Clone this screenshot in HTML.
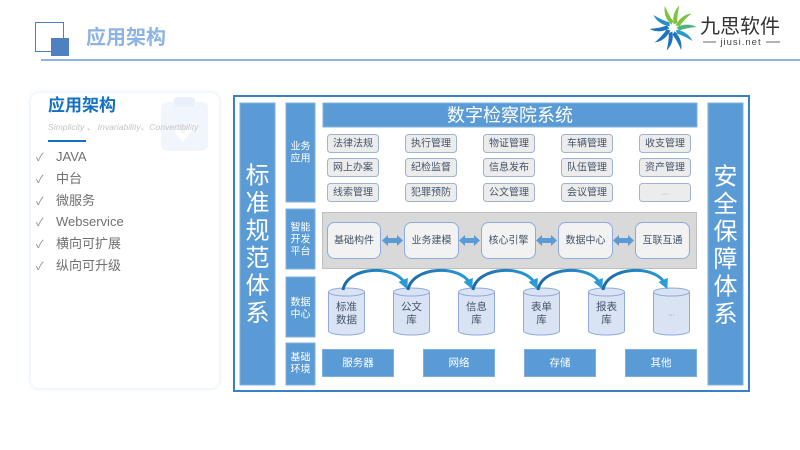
<!DOCTYPE html>
<html><head><meta charset="utf-8"><style>
html,body{margin:0;padding:0;width:800px;height:450px;overflow:hidden;background:#fff;font-family:"Liberation Sans","Noto Sans CJK SC",sans-serif;}
.abs{position:absolute;}
</style></head><body>
<div class="abs" style="left:0;top:0;width:800px;height:450px;">
<!-- header -->
<div class="abs" style="left:35px;top:22px;width:27px;height:28px;border:1px solid #4f7fc0;"></div>
<div class="abs" style="left:51px;top:38px;width:18px;height:18px;background:#4f81c2;"></div>
<div class="abs" style="left:86px;top:26px;font-size:20px;font-weight:bold;color:#8eb4e3;line-height:24px;">应用架构</div>
<div class="abs" style="left:41px;top:59px;width:759px;height:2px;background:#8db2e3;"></div>

<!-- left card -->
<div class="abs" style="left:31px;top:93px;width:188px;height:295px;border-radius:8px;background:#fff;box-shadow:0 0 4px 1px #e6eef7;"></div>
<svg class="abs" style="left:158px;top:96px" width="54" height="58">
<rect x="3" y="6" width="47" height="49" rx="6" fill="#f1f6fc"/>
<rect x="16" y="1" width="21" height="10" rx="4" fill="#e9f0f9"/>
<path d="M18 34 L25 42 L36 28" stroke="#fff" stroke-width="5" fill="none"/>
</svg>
<div class="abs" style="left:48px;top:96px;font-size:17px;font-weight:bold;color:#1570c2;line-height:20px;">应用架构</div>
<div class="abs" style="left:48px;top:121px;font-size:8.6px;font-style:italic;color:#c4c4c4;white-space:nowrap;">Simplicity 、 Invariability、Convertibility</div>
<div class="abs" style="left:48px;top:140px;width:38px;height:2px;background:#1570c2;"></div>
<div class="abs" style="left:36px;top:147px;font-size:13px;color:#707070;line-height:20.8px;">
<div><span style="display:inline-block;width:20px;font-size:11px;color:#8a8a8a">✓</span>JAVA</div>
<div><span style="display:inline-block;width:20px;font-size:11px;color:#8a8a8a">✓</span>中台</div>
<div><span style="display:inline-block;width:20px;font-size:11px;color:#8a8a8a">✓</span>微服务</div>
<div><span style="display:inline-block;width:20px;font-size:11px;color:#8a8a8a">✓</span>Webservice</div>
<div><span style="display:inline-block;width:20px;font-size:11px;color:#8a8a8a">✓</span>横向可扩展</div>
<div><span style="display:inline-block;width:20px;font-size:11px;color:#8a8a8a">✓</span>纵向可升级</div>
</div>

<!-- logo -->
<svg class="abs" style="left:650px;top:5px" width="145" height="50">
<g transform="translate(23,23)">
<g fill="#7cc243">
<path d="M2 -3 C4 -11 9 -16 15 -18 C11 -13 8 -8 6 -3 Z" transform="rotate(-60)"/>
<path d="M2 -3 C4 -11 9 -16 15 -18 C11 -13 8 -8 6 -3 Z" transform="rotate(-24)"/>
<path d="M2 -3 C4 -11 9 -16 15 -18 C11 -13 8 -8 6 -3 Z" transform="rotate(12)"/>
<path d="M2 -3 C4 -11 9 -16 15 -18 C11 -13 8 -8 6 -3 Z" transform="rotate(48)" fill="#4fb37a"/>
</g>
<g fill="#1f74bd">
<path d="M2 -3 C4 -11 9 -16 15 -18 C11 -13 8 -8 6 -3 Z" transform="rotate(84)" fill="#2a9ad0"/>
<path d="M2 -3 C4 -11 9 -16 15 -18 C11 -13 8 -8 6 -3 Z" transform="rotate(120)"/>
<path d="M2 -3 C4 -11 9 -16 15 -18 C11 -13 8 -8 6 -3 Z" transform="rotate(156)"/>
<path d="M2 -3 C4 -11 9 -16 15 -18 C11 -13 8 -8 6 -3 Z" transform="rotate(192)"/>
<path d="M2 -3 C4 -11 9 -16 15 -18 C11 -13 8 -8 6 -3 Z" transform="rotate(228)"/>
<path d="M2 -3 C4 -11 9 -16 15 -18 C11 -13 8 -8 6 -3 Z" transform="rotate(264)" fill="#2a8fc8"/>
</g>
</g>
<text x="50" y="28" font-size="20" fill="#333" font-family="Liberation Sans,Noto Sans CJK SC,sans-serif">九思软件</text>
<line x1="53" y1="37" x2="66" y2="37" stroke="#666" stroke-width="1"/>
<line x1="116" y1="37" x2="130" y2="37" stroke="#666" stroke-width="1"/>
<text x="91" y="40" font-size="9.5" fill="#444" text-anchor="middle" letter-spacing="1" font-family="Liberation Sans,sans-serif">jiusi.net</text>
</svg>

<!-- diagram -->
<svg class="abs" style="left:0;top:0" width="800" height="450" font-family="Liberation Sans,Noto Sans CJK SC,sans-serif">
<defs>
<marker id="ah" markerWidth="3.4" markerHeight="3.4" refX="1.5" refY="1.7" orient="auto" markerUnits="strokeWidth">
<path d="M0 0 L3.4 1.7 L0 3.4 Z" fill="#2a9ad8"/>
</marker>
<linearGradient id="ag" x1="0" x2="1" y1="0" y2="0">
<stop offset="0" stop-color="#1d6aa8"/><stop offset="1" stop-color="#2a9ad8"/>
</linearGradient>
</defs>
<rect x="234" y="96" width="515" height="295" fill="#fff" stroke="#3a80c5" stroke-width="2"/>
<!-- side bars -->
<rect x="240" y="103" width="35" height="282" fill="#5b9bd5" stroke="#7fb0dd" stroke-width="1"/>
<rect x="708" y="103" width="35" height="282" fill="#5b9bd5" stroke="#7fb0dd" stroke-width="1"/>
<g font-size="24" fill="#fff" text-anchor="middle" dominant-baseline="central">
<text x="257.5" y="176">标</text><text x="257.5" y="203.5">准</text><text x="257.5" y="231">规</text><text x="257.5" y="258.5">范</text><text x="257.5" y="286">体</text><text x="257.5" y="313.5">系</text>
<text x="725.5" y="177">安</text><text x="725.5" y="204.5">全</text><text x="725.5" y="232">保</text><text x="725.5" y="259.5">障</text><text x="725.5" y="287">体</text><text x="725.5" y="314.5">系</text>
</g>
<!-- label column -->
<g fill="#5b9bd5" stroke="#7fb0dd" stroke-width="1">
<rect x="286" y="103" width="29" height="99"/>
<rect x="286" y="209" width="29" height="60"/>
<rect x="286" y="277" width="29" height="60"/>
<rect x="286" y="343" width="29" height="42"/>
</g>
<g font-size="10" fill="#fff" text-anchor="middle" dominant-baseline="central">
<text x="300.5" y="147">业务</text><text x="300.5" y="159">应用</text>
<text x="300.5" y="228">智能</text><text x="300.5" y="240">开发</text><text x="300.5" y="252">平台</text>
<text x="300.5" y="303">数据</text><text x="300.5" y="315">中心</text>
<text x="300.5" y="358">基础</text><text x="300.5" y="370">环境</text>
</g>
<!-- title bar -->
<rect x="323" y="103" width="374" height="24" fill="#5b9bd5" stroke="#7fb0dd" stroke-width="1"/>
<text x="510" y="115.5" font-size="18" fill="#fff" text-anchor="middle" dominant-baseline="central">数字检察院系统</text>
<!-- buttons -->
<g fill="#ececec" stroke="#9fb3d1" stroke-width="1">
<rect x="327.5" y="134.5" width="51" height="18" rx="3"/><rect x="405.5" y="134.5" width="51" height="18" rx="3"/><rect x="483.5" y="134.5" width="51" height="18" rx="3"/><rect x="561.5" y="134.5" width="51" height="18" rx="3"/><rect x="639.5" y="134.5" width="51" height="18" rx="3"/>
<rect x="327.5" y="158.5" width="51" height="18" rx="3"/><rect x="405.5" y="158.5" width="51" height="18" rx="3"/><rect x="483.5" y="158.5" width="51" height="18" rx="3"/><rect x="561.5" y="158.5" width="51" height="18" rx="3"/><rect x="639.5" y="158.5" width="51" height="18" rx="3"/>
<rect x="327.5" y="183.5" width="51" height="18" rx="3"/><rect x="405.5" y="183.5" width="51" height="18" rx="3"/><rect x="483.5" y="183.5" width="51" height="18" rx="3"/><rect x="561.5" y="183.5" width="51" height="18" rx="3"/><rect x="639.5" y="183.5" width="51" height="18" rx="3"/>
</g>
<g font-size="10" fill="#44546a" text-anchor="middle" dominant-baseline="central">
<text x="353" y="144">法律法规</text><text x="431" y="144">执行管理</text><text x="509" y="144">物证管理</text><text x="587" y="144">车辆管理</text><text x="665" y="144">收支管理</text>
<text x="353" y="168">网上办案</text><text x="431" y="168">纪检监督</text><text x="509" y="168">信息发布</text><text x="587" y="168">队伍管理</text><text x="665" y="168">资产管理</text>
<text x="353" y="193">线索管理</text><text x="431" y="193">犯罪预防</text><text x="509" y="193">公文管理</text><text x="587" y="193">会议管理</text><text x="665" y="192" font-size="8" fill="#8a9ab0">...</text>
</g>
<!-- platform -->
<rect x="322.5" y="212.5" width="374" height="56" fill="#d9d9d9" stroke="#bfbfbf" stroke-width="1"/>
<g fill="#f2f2f2" stroke="#8faadc" stroke-width="1">
<rect x="327.5" y="222.5" width="53" height="36" rx="7"/>
<rect x="404.5" y="222.5" width="54" height="36" rx="7"/>
<rect x="481.5" y="222.5" width="54" height="36" rx="7"/>
<rect x="558.5" y="222.5" width="54" height="36" rx="7"/>
<rect x="635.5" y="222.5" width="54" height="36" rx="7"/>
</g>
<g font-size="10" fill="#44546a" text-anchor="middle" dominant-baseline="central">
<text x="354" y="241">基础构件</text><text x="431.5" y="241">业务建模</text><text x="508.5" y="241">核心引擎</text><text x="585.5" y="241">数据中心</text><text x="662.5" y="241">互联互通</text>
</g>
<g fill="#5b9bd5">
<path d="M382 240.5 L388 235 L388 238 L397 238 L397 235 L403 240.5 L397 246 L397 243 L388 243 L388 246 Z"/>
<path d="M459 240.5 L465 235 L465 238 L474 238 L474 235 L480 240.5 L474 246 L474 243 L465 243 L465 246 Z"/>
<path d="M536 240.5 L542 235 L542 238 L551 238 L551 235 L557 240.5 L551 246 L551 243 L542 243 L542 246 Z"/>
<path d="M613 240.5 L619 235 L619 238 L628 238 L628 235 L634 240.5 L628 246 L628 243 L619 243 L619 246 Z"/>
</g>
<!-- cylinders -->
<g fill="#dae3f3" stroke="#8faadc" stroke-width="1">
<path d="M328.5 292 L328.5 331 A18 4 0 0 0 364.5 331 L364.5 292"/><ellipse cx="346.5" cy="292" rx="18" ry="4"/>
<path d="M393.5 292 L393.5 331 A18 4 0 0 0 429.5 331 L429.5 292"/><ellipse cx="411.5" cy="292" rx="18" ry="4"/>
<path d="M458.5 292 L458.5 331 A18 4 0 0 0 494.5 331 L494.5 292"/><ellipse cx="476.5" cy="292" rx="18" ry="4"/>
<path d="M523.5 292 L523.5 331 A18 4 0 0 0 559.5 331 L559.5 292"/><ellipse cx="541.5" cy="292" rx="18" ry="4"/>
<path d="M588.5 292 L588.5 331 A18 4 0 0 0 624.5 331 L624.5 292"/><ellipse cx="606.5" cy="292" rx="18" ry="4"/>
<path d="M653.5 292 L653.5 331 A18 4 0 0 0 689.5 331 L689.5 292"/><ellipse cx="671.5" cy="292" rx="18" ry="4"/>
</g>
<g font-size="10.5" fill="#44546a" text-anchor="middle" dominant-baseline="central">
<text x="346.5" y="307">标准</text><text x="346.5" y="320">数据</text>
<text x="411.5" y="307">公文</text><text x="411.5" y="320">库</text>
<text x="476.5" y="307">信息</text><text x="476.5" y="320">库</text>
<text x="541.5" y="307">表单</text><text x="541.5" y="320">库</text>
<text x="606.5" y="307">报表</text><text x="606.5" y="320">库</text>
<text x="671.5" y="313" font-size="8" fill="#7a8aa0">...</text>
</g>
<g fill="none" stroke="url(#ag)" stroke-width="3">
<path d="M343 290 C347 266 396 264 405 284" marker-end="url(#ah)"/>
<path d="M408 290 C412 266 461 264 470 284" marker-end="url(#ah)"/>
<path d="M473 290 C477 266 526 264 535 284" marker-end="url(#ah)"/>
<path d="M538 290 C542 266 591 264 600 284" marker-end="url(#ah)"/>
<path d="M603 290 C607 266 656 264 665 284" marker-end="url(#ah)"/>
</g>
<!-- base env -->
<g fill="#5b9bd5" stroke="#7fb0dd" stroke-width="1">
<rect x="322.5" y="349.5" width="71" height="27"/>
<rect x="423.5" y="349.5" width="71" height="27"/>
<rect x="524.5" y="349.5" width="71" height="27"/>
<rect x="625.5" y="349.5" width="71" height="27"/>
</g>
<g font-size="10.5" fill="#fff" text-anchor="middle" dominant-baseline="central">
<text x="358" y="363">服务器</text><text x="459" y="363">网络</text><text x="560" y="363">存储</text><text x="661" y="363">其他</text>
</g>
</svg>
</div>
</body></html>
